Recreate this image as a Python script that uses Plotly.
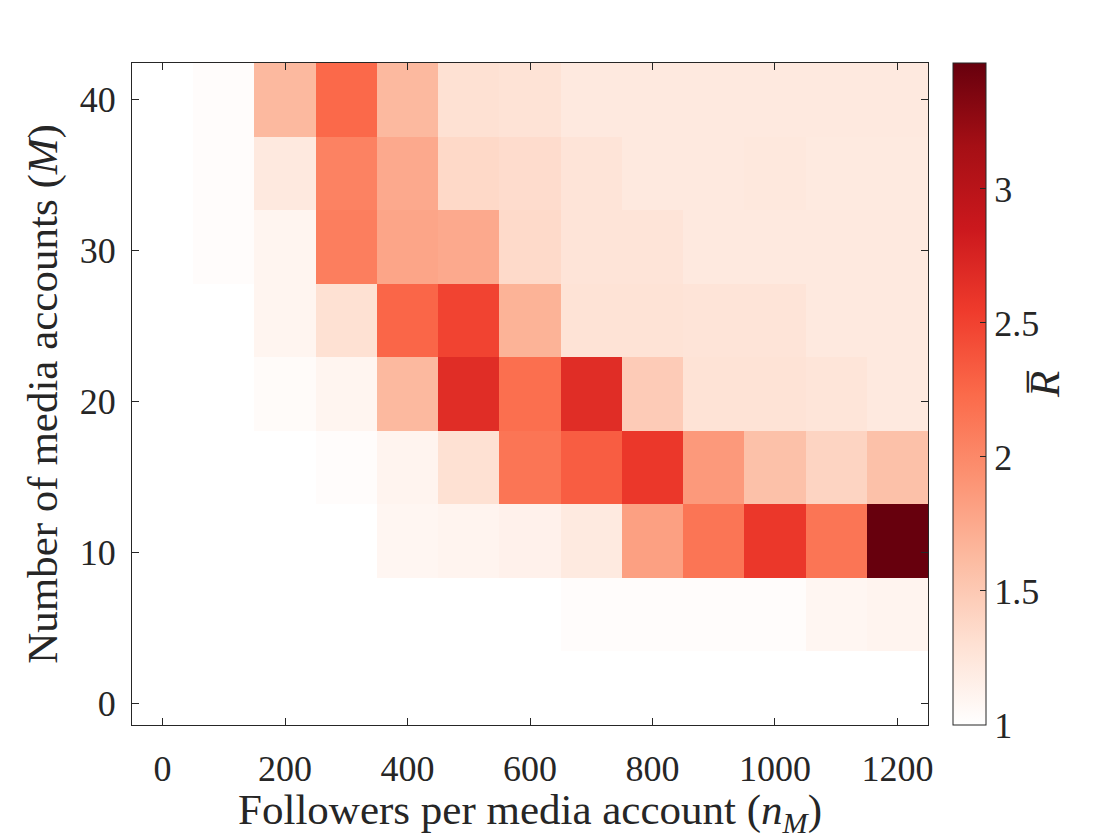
import plotly.graph_objects as go

followers = [0, 100, 200, 300, 400, 500, 600, 700, 800, 900, 1000, 1100, 1200]
media_accounts = [1, 5.875, 10.75, 15.625, 20.5, 25.375, 30.25, 35.125, 40]

# mean R, rows follow media_accounts (bottom to top), columns follow followers
r_row_01 = [1.00, 1.00, 1.00, 1.00, 1.00, 1.00, 1.00, 1.00, 1.00, 1.00, 1.00, 1.00, 1.00]
r_row_06 = [1.00, 1.00, 1.00, 1.00, 1.00, 1.00, 1.00, 1.03, 1.03, 1.03, 1.03, 1.09, 1.11]
r_row_11 = [1.00, 1.00, 1.00, 1.00, 1.09, 1.11, 1.14, 1.21, 1.82, 2.15, 2.58, 2.15, 3.47]
r_row_16 = [1.00, 1.00, 1.00, 1.03, 1.11, 1.30, 2.15, 2.32, 2.58, 1.87, 1.57, 1.41, 1.57]
r_row_21 = [1.00, 1.00, 1.04, 1.10, 1.63, 2.67, 2.20, 2.67, 1.48, 1.28, 1.28, 1.26, 1.22]
r_row_25 = [1.00, 1.00, 1.10, 1.30, 2.26, 2.49, 1.68, 1.28, 1.28, 1.27, 1.27, 1.22, 1.22]
r_row_30 = [1.00, 1.03, 1.10, 2.08, 1.78, 1.75, 1.36, 1.27, 1.27, 1.22, 1.22, 1.22, 1.22]
r_row_35 = [1.00, 1.03, 1.22, 2.05, 1.75, 1.37, 1.34, 1.27, 1.22, 1.22, 1.23, 1.21, 1.21]
r_row_40 = [1.00, 1.03, 1.63, 2.24, 1.63, 1.30, 1.28, 1.22, 1.22, 1.22, 1.22, 1.22, 1.22]

z = [r_row_01, r_row_06, r_row_11, r_row_16, r_row_21, r_row_25, r_row_30, r_row_35, r_row_40]

x_ticks = [0, 200, 400, 600, 800, 1000, 1200]
y_ticks = [0, 10, 20, 30, 40]
colorbar_ticks = [1, 1.5, 2, 2.5, 3]

reds = [
    [0.0, "#ffffff"], [0.125, "#fee0d2"], [0.25, "#fcbba1"], [0.375, "#fc9272"],
    [0.5, "#fb6a4a"], [0.625, "#ef3b2c"], [0.75, "#cb181d"], [0.875, "#a50f15"],
    [1.0, "#67000d"],
]

FONT = "Liberation Serif"
INK = "#262626"
TICK_SIZE = 36
TITLE_SIZE = 43

fig = go.Figure(
    go.Heatmap(
        x=followers, y=media_accounts, z=z,
        zmin=1.0, zmax=3.47, colorscale=reds,
        colorbar=dict(
            x=1.0314, xanchor="left", xpad=0, y=0.5, yanchor="middle",
            len=1.0, ypad=0,
            thickness=33, outlinewidth=1, outlinecolor=INK,
            ticks="inside", ticklen=6, tickcolor=INK,
            tickvals=colorbar_ticks, ticktext=[str(t) for t in colorbar_ticks],
            tickfont=dict(family=FONT, size=TICK_SIZE, color=INK),
        ),
    )
)

# colour-bar label (mean R), rotated like the reference
fig.add_annotation(
    text="<i>R̅</i>", textangle=-90, showarrow=False,
    xref="paper", yref="paper", x=1.1457, y=0.515,
    xanchor="center", yanchor="middle",
    font=dict(family=FONT, size=TITLE_SIZE, color=INK),
)

fig.update_xaxes(
    range=[-50, 1250], tickvals=x_ticks, ticktext=[str(t) for t in x_ticks],
    ticks="inside", ticklen=7, tickcolor=INK, showline=True, linecolor=INK,
    linewidth=1, mirror="ticks", showgrid=False, zeroline=False,
    tickfont=dict(family=FONT, size=TICK_SIZE, color=INK),
    ticklabelstandoff=12,
    title=dict(text="Followers per media account (<i>n</i><sub><i>M</i></sub>)",
               font=dict(family=FONT, size=TITLE_SIZE, color=INK), standoff=6),
)
fig.update_yaxes(
    range=[-1.4375, 42.4375], tickvals=y_ticks, ticktext=[str(t) for t in y_ticks],
    ticks="inside", ticklen=7, tickcolor=INK, showline=True, linecolor=INK,
    linewidth=1, mirror="ticks", showgrid=False, zeroline=False,
    tickfont=dict(family=FONT, size=TICK_SIZE, color=INK),
    ticklabelstandoff=8,
    title=dict(text="Number of media accounts (<i>M</i>)",
               font=dict(family=FONT, size=TITLE_SIZE, color=INK), standoff=8),
)

fig.update_layout(
    width=1120, height=840,
    margin=dict(l=132, r=192, t=63, b=115),
    paper_bgcolor="white", plot_bgcolor="white",
    font=dict(family=FONT, color=INK),
)

fig.write_html("out.html")
